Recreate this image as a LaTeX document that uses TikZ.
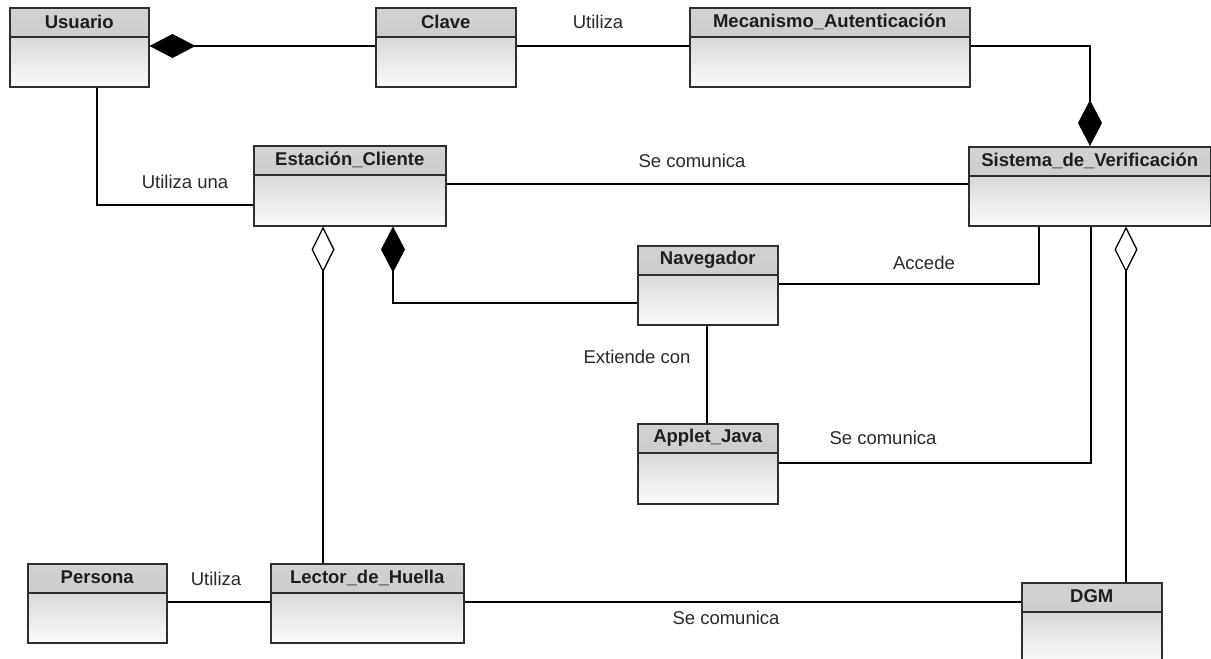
\documentclass[tikz,border=0pt]{standalone}
\usepackage{fontspec}
\setmainfont{Liberation Sans}
\usetikzlibrary{arrows.meta,calc}
\definecolor{frame}{HTML}{2E2E2E}
\definecolor{hdrtop}{HTML}{D2D2D2}
\definecolor{hdrbot}{HTML}{C4C4C4}
\definecolor{bodytop}{HTML}{D8D8D8}
\definecolor{bodybot}{HTML}{FBFBFB}
\definecolor{ink}{HTML}{1E1E1E}
\definecolor{labelink}{HTML}{2A2A2A}

% one UML class: name, left, top, width, height, title
\newcommand{\umlclass}[6]{%
  \node[cls, minimum width=#4pt, minimum height=#5pt] (#1) at (#2,#3) {};
  \node[ttl] at ($(#1.north)+(0,14.5)$) {#6};
}

\begin{document}
\begin{tikzpicture}[x=1pt, y=-1pt,
  cls/.style={draw=frame, line width=1.5pt, anchor=north west, inner sep=0pt,
    path picture={
      \shade[top color=hdrtop, bottom color=hdrbot]
        (path picture bounding box.north west) rectangle
        ([yshift=-29pt]path picture bounding box.north east);
      \shade[top color=bodytop, bottom color=bodybot]
        ([yshift=-29pt]path picture bounding box.north west) rectangle
        (path picture bounding box.south east);
      \draw[frame, line width=1.5pt]
        ([yshift=-29pt]path picture bounding box.north west) --
        ([yshift=-29pt]path picture bounding box.north east);
    }},
  ttl/.style={font=\bfseries\fontsize{18.5}{20}\selectfont, text=ink, inner sep=0pt},
  lbl/.style={font=\fontsize{18.5}{20}\selectfont, text=labelink, inner sep=0pt},
  conn/.style={line width=1.3pt, black},
  comp/.style={conn, {Diamond[length=46pt, width=24pt]}-},
  aggr/.style={conn, {Diamond[open, length=46pt, width=23pt]}-},
]
\fill[white] (0,0) rectangle (1211,659);
\useasboundingbox (0,0) rectangle (1211,659);
\clip (0,0) rectangle (1211,659);

% classes
\umlclass{usuario}{9}{7}{139}{79}{Usuario}
\umlclass{clave}{375}{7}{140}{79}{Clave}
\umlclass{meca}{689}{7}{280}{79}{Mecanismo\_Autenticación}
\umlclass{estacion}{253}{145}{192}{80}{Estación\_Cliente}
\umlclass{sistema}{968}{146}{242}{79}{Sistema\_de\_Verificación}
\umlclass{navegador}{637}{245}{140}{79}{Navegador}
\umlclass{applet}{637}{423}{140}{80}{Applet\_Java}
\umlclass{persona}{27}{563}{139}{79}{Persona}
\umlclass{lector}{270}{563}{193}{79}{Lector\_de\_Huella}
\umlclass{dgm}{1021}{582}{140}{80}{DGM}

% routing points
\coordinate (cUC) at (0,46);
\coordinate (cMS) at (1090,46);
\coordinate (cUE) at (97,205);
\coordinate (cES) at (0,184);
\coordinate (cEL) at (323,0);
\coordinate (cEN) at (393,303);
\coordinate (cNS) at (1039,284);
\coordinate (cNA) at (707,0);
\coordinate (cAS) at (1091,463);
\coordinate (cSD) at (1126,0);
\coordinate (cPL) at (0,602);

% associations
\draw[comp] (usuario.east |- cUC) -- (clave.west |- cUC);
\draw[conn] (clave.east |- cUC) -- (meca.west |- cUC);
\draw[comp] (sistema.north -| cMS) -- (cMS) -- (meca.east |- cMS);
\draw[conn] (usuario.south -| cUE) -- (cUE) -- (estacion.west |- cUE);
\draw[conn] (estacion.east |- cES) -- (sistema.west |- cES);
\draw[aggr] (estacion.south -| cEL) -- (lector.north -| cEL);
\draw[comp] (estacion.south -| cEN) -- (cEN) -- (navegador.west |- cEN);
\draw[conn] (navegador.east |- cNS) -- (cNS) -- (sistema.south -| cNS);
\draw[conn] (navegador.south -| cNA) -- (applet.north -| cNA);
\draw[conn] (applet.east |- cAS) -- (cAS) -- (sistema.south -| cAS);
\draw[aggr] (sistema.south -| cSD) -- (dgm.north -| cSD);
\draw[conn] (persona.east |- cPL) -- (lector.west |- cPL);
\draw[conn] (lector.east |- cPL) -- (dgm.west |- cPL);

% association labels
\node[lbl] (lUtiliza) at (598,22) {Utiliza};
\node[lbl] (lUtilizaUna) at (185,182) {Utiliza una};
\node[lbl] (lComunicaA) at (692,161) {Se comunica};
\node[lbl] (lAccede) at (924,263) {Accede};
\node[lbl] (lExtiende) at (637,357) {Extiende con};
\node[lbl] (lComunicaB) at (883,438) {Se comunica};
\node[lbl] (lUtilizaB) at (216,579) {Utiliza};
\node[lbl] (lComunicaC) at (726,618) {Se comunica};
\end{tikzpicture}
\end{document}
